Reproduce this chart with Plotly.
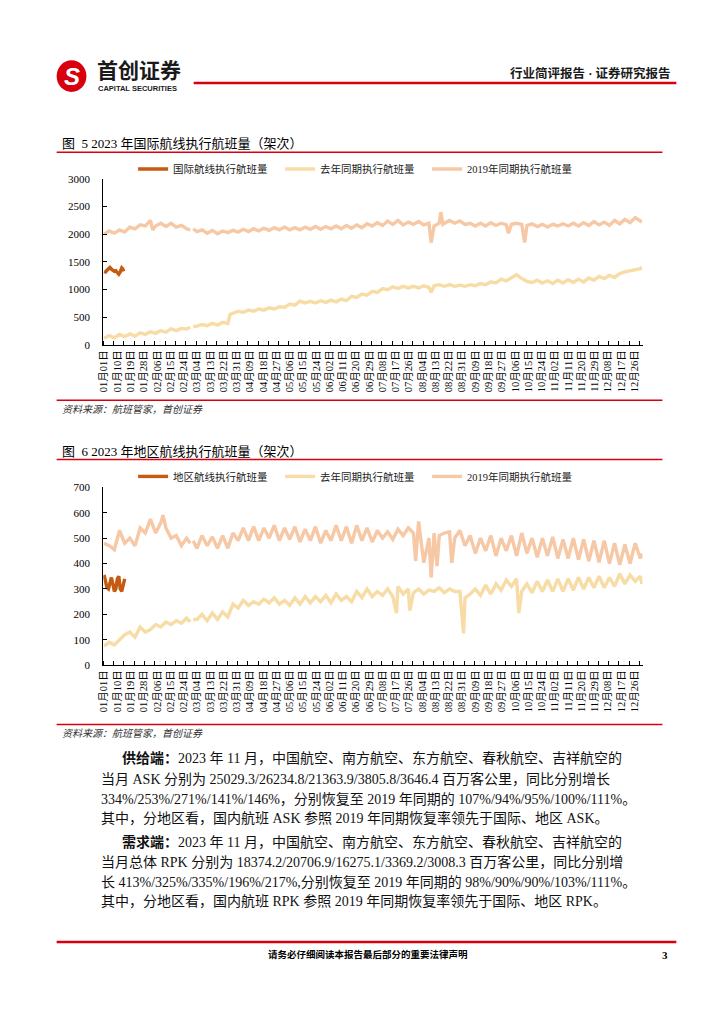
import plotly.graph_objects as go

# ---------------- data ----------------
tick_text = ["01月01日", "01月10日", "01月19日", "01月28日", "02月06日", "02月15日", "02月24日",
             "03月04日", "03月13日", "03月22日", "03月31日", "04月09日", "04月18日", "04月27日",
             "05月06日", "05月15日", "05月24日", "06月02日", "06月11日", "06月20日", "06月29日",
             "07月08日", "07月17日", "07月26日", "08月04日", "08月13日", "08月22日", "08月31日",
             "09月09日", "09月18日", "09月27日", "10月06日", "10月15日", "10月24日", "11月02日",
             "11月11日", "11月20日", "11月29日", "12月08日", "12月17日", "12月26日"]
tick_days = [9 * i for i in range(len(tick_text))]

# half-week sample positions (day index in the year) + last day
grid_days = [3.5 * i for i in range(105)] + [365]

# chart 1: international routes
int_cur_days = list(range(15))
int_cur = [1330, 1320, 1350, 1380, 1400, 1370, 1350, 1330, 1340, 1300, 1280, 1320, 1390, 1360, 1370]

int_ly = [120, 170, 130, 190, 150, 200, 160, 220, 190, 240,
          210, 260, 230, 290, 260, 300, 290, None, 340, 370,
          350, 390, 360, 410, 390, 570, 610, 590, 630, 610,
          650, 630, 670, 650, 690, 680, 740, 720, 790, 760,
          790, 760, 800, 770, 810, 780, 830, 800, 880, 860,
          920, 900, 970, 950, 1020, 1000, 1050, 1020, 1060, 1030,
          1060, 1030, 1070, 1040, 1070, 1090, 1060, 1090, 1060, 1080,
          1060, 1090, 1070, 1110, 1090, 1140, 1120, 1190, 1160, 1220,
          1270, 1200, 1150, 1130, 1170, 1120, 1160, 1110, 1170, 1120,
          1180, 1130, 1190, 1140, 1210, 1170, 1240, 1200, 1260, 1220,
          1290, 1320, 1340, 1360, 1380,
          1410]
int_ly_extra_days = [58.5, 60.5, 85.5, 222]
int_ly_extra = [320, 330, 550, 950]

int_19 = [2000, 2060, 2020, 2080, 2040, 2130, 2100, 2170, 2150, 2250,
          2150, 2200, 2140, 2200, 2130, 2160, 2100, None, 2050, 2080,
          2020, 2070, 2010, 2060, 2030, 2070, 2040, 2090, 2050, 2100,
          2060, 2110, 2070, 2120, 2080, 2130, 2080, 2120, 2080, 2130,
          2090, 2140, 2090, 2140, 2100, 2150, 2100, 2160, 2110, 2170,
          2120, 2190, 2150, 2210, 2160, 2240, 2180, 2250, 2170, 2220,
          2180, 2230, 2170, 2200, 2150, 2200, 2200, 2250, 2200, 2240,
          2180, 2200, 2150, 2200, 2150, 2210, 2160, 2200, 2170, 2180,
          2200, 2180, 2160, 2190, 2140, 2180, 2130, 2180, 2150, 2190,
          2150, 2200, 2150, 2210, 2160, 2230, 2170, 2220, 2160, 2250,
          2190, 2270, 2210, 2300, 2240,
          2220]
int_19_extra_days = [33, 58.5, 60.5, 222, 228.5, 230, 274.5, 285.5]
int_19_extra = [2080, 2080, 2100, 1850, 2400, 2180, 2020, 1850]

# chart 2: regional routes
reg_cur_days = list(range(15))
reg_cur = [355, 330, 305, 300, 330, 345, 320, 290, 300, 340, 350, 300, 290, 320, 340]

reg_ly = [75, 90, 80, 100, 120, 130, 110, 150, 130, 140,
          160, 150, 170, 160, 175, 165, 185, None, 180, 200,
          175, 205, 180, 210, 190, 240, 225, 255, 235, 250,
          240, 260, 245, 265, 240, 255, 235, 265, 240, 270,
          245, 270, 250, 275, 245, 280, 255, 270, 250, 290,
          265, 300, 270, 290, 275, 300, 270, 310, 280, 300,
          285, 300, 280, 295, 290, 305, 285, 300, 290, 290,
          265, 280, 300, 275, 315, 280, 320, 295, 335, 310,
          340, 290, 320, 285, 330, 290, 335, 290, 340, 290,
          340, 295, 345, 300, 345, 305, 350, 305, 345, 310,
          360, 320, 355, 330, 350,
          320]
reg_ly_extra_days = [58.5, 60.5, 198.5, 207.5, 244, 281.5]
reg_ly_extra = [170, 180, 205, 215, 125, 205]

reg_19 = [480, 470, 455, 530, 480, 500, 470, 540, 520, 575,
          520, 560, 540, 500, 510, 470, 500, None, 460, 510,
          470, 505, 460, 510, 460, 520, 490, 540, 490, 545,
          490, 540, 500, 550, 490, 540, 495, 545, 485, 535,
          490, 545, 480, 530, 490, 550, 490, 545, 480, 550,
          490, 540, 485, 530, 500, 525, 495, 535, 510, 540,
          520, 566, 403, 500, 520, 510, 520, 525, 500, 530,
          470, 510, 440, 500, 450, 510, 430, 500, 450, 510,
          430, 520, 440, 500, 425, 500, 430, 505, 420, 495,
          420, 500, 415, 495, 410, 490, 405, 490, 400, 480,
          395, 475, 400, 480, 420,
          440]
reg_19_extra_days = [40, 58.5, 60.5, 211.5, 222, 226, 236]
reg_19_extra = [590, 480, 490, 410, 345, 390, 403]

names1 = ["国际航线执行航班量", "去年同期执行航班量", "2019年同期执行航班量"]
names2 = ["地区航线执行航班量", "去年同期执行航班量", "2019年同期执行航班量"]
colors = ["#C55A11", "#F8DCA6", "#F7C8A6"]


def merge(days, vals, ex_days, ex_vals):
    pts = sorted(list(zip(days, vals)) + list(zip(ex_days, ex_vals)), key=lambda p: p[0])
    return [p[0] for p in pts], [p[1] for p in pts]


W, H = 724, 1024
def px(x):
    return x / W
def py(y):
    return 1 - y / H

SERIF = "Liberation Serif, Noto Sans CJK SC"
CJK = "Noto Sans CJK SC"

fig = go.Figure()

chart_specs = [
    ("x", "y", "legend", names1, (int_cur_days, int_cur),
     merge(grid_days, int_ly, int_ly_extra_days, int_ly_extra),
     merge(grid_days, int_19, int_19_extra_days, int_19_extra)),
    ("x2", "y2", "legend2", names2, (reg_cur_days, reg_cur),
     merge(grid_days, reg_ly, reg_ly_extra_days, reg_ly_extra),
     merge(grid_days, reg_19, reg_19_extra_days, reg_19_extra)),
]
for xa, ya, lg, names, cur, ly, y19 in chart_specs:
    for (xs, ys), nm, col in zip([cur, ly, y19], names, colors):
        fig.add_trace(go.Scatter(x=xs, y=ys, name=nm, mode="lines", xaxis=xa, yaxis=ya,
                                 legend=lg, line=dict(color=col, width=3.4),
                                 connectgaps=False, hoverinfo="skip"))

xcommon = dict(range=[-0.5, 365.5], tickmode="array", tickvals=tick_days, ticktext=tick_text,
               tickangle=-90, ticks="", showline=True, linecolor="black", linewidth=1,
               showgrid=False, zeroline=False, fixedrange=True,
               tickfont=dict(family=SERIF, size=10.5, color="black"),
               minor=dict(tickmode="linear", tick0=-0.5, dtick=7, ticks="inside",
                          ticklen=4, tickcolor="black", showgrid=False))
ycommon = dict(ticks="inside", ticklen=4, tickcolor="black", showline=True, linecolor="black",
               linewidth=1, showgrid=False, zeroline=False, fixedrange=True,
               tickfont=dict(family=SERIF, size=11, color="black"), ticklabelstandoff=10)

legcommon = dict(orientation="h", xanchor="left", yanchor="middle", bgcolor="rgba(0,0,0,0)",
                 font=dict(family=SERIF, size=10.5, color="#222"), entrywidth=102,
                 entrywidthmode="pixels", itemwidth=30, traceorder="normal")

fig.update_layout(
    width=W, height=H, margin=dict(l=0, r=0, t=0, b=0),
    paper_bgcolor="white", plot_bgcolor="white", showlegend=True,
    xaxis=dict(domain=[px(99), px(642)], anchor="y", **xcommon),
    yaxis=dict(domain=[py(343), py(175)], anchor="x", range=[0, 3000], dtick=500, **ycommon),
    xaxis2=dict(domain=[px(99), px(642)], anchor="y2", **xcommon),
    yaxis2=dict(domain=[py(667), py(487)], anchor="x2", range=[0, 700], dtick=100, **ycommon),
    legend=dict(x=px(129), y=py(165), **legcommon),
    legend2=dict(x=px(129), y=py(476), **legcommon),
)

RED = "#D9000D"
shapes = [
    # header line
    dict(type="line", xref="paper", yref="paper", x0=px(190), x1=px(676), y0=py(78), y1=py(78),
         line=dict(color=RED, width=2.5)),
    # logo
    dict(type="circle", xref="paper", yref="paper", x0=px(52), x1=px(82), y0=py(87), y1=py(55),
         fillcolor=RED, line=dict(color=RED, width=0)),
    # chart 1 title / source lines
    dict(type="line", xref="paper", yref="paper", x0=px(52), x1=px(662), y0=py(148), y1=py(148),
         line=dict(color=RED, width=1.5)),
    dict(type="line", xref="paper", yref="paper", x0=px(52), x1=px(662), y0=py(399), y1=py(399),
         line=dict(color=RED, width=1.5)),
    # chart 2 title / source lines
    dict(type="line", xref="paper", yref="paper", x0=px(52), x1=px(662), y0=py(459), y1=py(459),
         line=dict(color=RED, width=1.5)),
    dict(type="line", xref="paper", yref="paper", x0=px(52), x1=px(662), y0=py(727), y1=py(727),
         line=dict(color=RED, width=1.5)),
    # footer line
    dict(type="line", xref="paper", yref="paper", x0=px(52), x1=px(676), y0=py(947), y1=py(947),
         line=dict(color=RED, width=2.5)),
]
fig.update_layout(shapes=shapes)


def ann(text, x, y, size, family=SERIF, anchor="left", color="black", italic=False):
    fig.add_annotation(text=text, xref="paper", yref="paper", x=px(x), y=py(y), xanchor=anchor,
                       yanchor="middle", showarrow=False,
                       font=dict(family=family, size=size, color=color,
                                 style="italic" if italic else "normal"))

# header
ann("<b>S</b>", 67, 71, 24, family="Liberation Sans", anchor="center", color="white", italic=True)
ann("<b>首创证券</b>", 91, 64, 21, family=CJK, color="#1a1a1a")
ann("<b>CAPITAL SECURITIES</b>", 92, 83, 7.5, family="Liberation Sans", color="#1a1a1a")
ann("<b>行业简评报告 · 证券研究报告</b>", 672, 68, 12.5, anchor="right", color="#1a1a1a")

# chart titles and sources
ann("图  5 2023 年国际航线执行航班量（架次）", 55, 139, 13)
ann("资料来源：航班管家，首创证券", 55, 408, 10, italic=True, color="#333")
ann("图  6 2023 年地区航线执行航班量（架次）", 55, 451, 13)
ann("资料来源：航班管家，首创证券", 55, 736, 10, italic=True, color="#333")

# body text
body = [
    (116, 761, "<b>供给端：</b>2023 年 11 月，中国航空、南方航空、东方航空、春秋航空、吉祥航空的"),
    (95, 782, "当月 ASK 分别为 25029.3/26234.8/21363.9/3805.8/3646.4 百万客公里，同比分别增长"),
    (95, 802, "334%/253%/271%/141%/146%，分别恢复至 2019 年同期的 107%/94%/95%/100%/111%。"),
    (95, 822, "其中，分地区看，国内航班 ASK 参照 2019 年同期恢复率领先于国际、地区 ASK。"),
    (116, 846, "<b>需求端：</b>2023 年 11 月，中国航空、南方航空、东方航空、春秋航空、吉祥航空的"),
    (95, 866, "当月总体 RPK 分别为 18374.2/20706.9/16275.1/3369.2/3008.3 百万客公里，同比分别增"),
    (95, 886, "长 413%/325%/335%/196%/217%,分别恢复至 2019 年同期的 98%/90%/90%/103%/111%。"),
    (95, 906, "其中，分地区看，国内航班 RPK 参照 2019 年同期恢复率领先于国际、地区 RPK。"),
]
for x, y, t in body:
    ann(t, x, y, 14, color="#111")

# footer
ann("<b>请务必仔细阅读本报告最后部分的重要法律声明</b>", 366, 960, 9.5, anchor="center")
ann("<b>3</b>", 670, 960, 11, anchor="right")

fig.write_html("out.html", config={"displayModeBar": False},
               post_script="document.body.style.margin='0';")
